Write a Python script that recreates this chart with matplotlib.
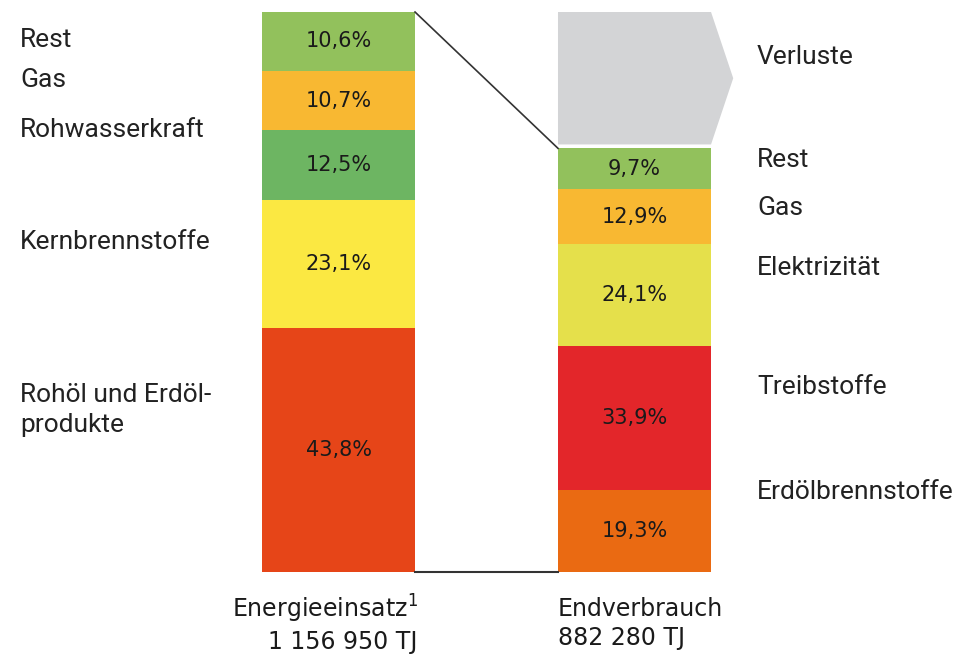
# Energiefluss: Energieeinsatz vs. Endverbrauch
import matplotlib.pyplot as plt
from matplotlib.patches import Polygon

# Daten
einsatz_total = 1156950  # TJ
verbrauch_total = 882280  # TJ
einsatz_cat = ["Rohöl und Erdöl-\nprodukte", "Kernbrennstoffe", "Rohwasserkraft", "Gas", "Rest"]
einsatz_pct = [43.8, 23.1, 12.5, 10.7, 10.6]
einsatz_col = ["#e64518", "#fbe842", "#6db562", "#f8b832", "#92c15c"]
verbrauch_cat = ["Erdölbrennstoffe", "Treibstoffe", "Elektrizität", "Gas", "Rest"]
verbrauch_pct = [19.3, 33.9, 24.1, 12.9, 9.7]
verbrauch_col = ["#ea6a12", "#e3262a", "#e5e04b", "#f8b832", "#92c15c"]
bar_titles = ["Energieeinsatz$^{1}$\n1 156 950 TJ", "Endverbrauch\n882 280 TJ"]

# Layout (y-Positionen der Beschriftungen in Prozent des Energieeinsatzes)
einsatz_label_y = [29.1, 59.3, 79.5, 88.5, 95.7]
verbrauch_label_y = [14.4, 33.3, 54.7, 65.5, 74.1]
verluste_label_y = 92.6

w = 0.517
label_font = ["Roboto", "DejaVu Sans"]
num_font = ["DejaVu Sans"]

fig = plt.figure(figsize=(9.69, 6.55), dpi=100)
ax = fig.add_axes([0, 0, 1, 1])
ax.set_xlim(-1.1436, 2.130)
ax.set_ylim(-14.93, 102.86)
ax.axis("off")

# linker Balken
scale = verbrauch_total / einsatz_total
bottom = 0
for p, c in zip(einsatz_pct, einsatz_col):
    ax.bar(0, p, width=w, bottom=bottom, color=c, edgecolor="none")
    ax.text(0, bottom + p / 2, "{:.1f}%".format(p).replace(".", ","),
            ha="center", va="center", fontsize=15, color="#1a1a1a", family=num_font)
    bottom += p
left_top = bottom

# rechter Balken
bottom = 0
for p, c in zip(verbrauch_pct, verbrauch_col):
    h = p * scale
    ax.bar(1, h, width=w, bottom=bottom, color=c, edgecolor="none")
    ax.text(1, bottom + h / 2, "{:.1f}%".format(p).replace(".", ","),
            ha="center", va="center", fontsize=15, color="#1a1a1a", family=num_font)
    bottom += h
right_top = bottom

# Verluste-Pfeil
gap = 0.7
x0, x1 = 1 - w / 2, 1 + w / 2
tip = x1 + 0.075
ymid = (right_top + gap + left_top) / 2
ax.add_patch(Polygon([(x0, right_top + gap), (x1, right_top + gap), (tip, ymid),
                      (x1, left_top), (x0, left_top)], closed=True,
                     facecolor="#d3d4d6", edgecolor="none"))

# Verbindungslinien
ax.plot([w / 2, 1 - w / 2], [left_top, right_top], color="#333333", lw=1.2)
ax.plot([w / 2, 1 - w / 2], [0, 0], color="#333333", lw=1.5)

# Beschriftungen
for name, y in zip(einsatz_cat, einsatz_label_y):
    ax.text(-1.076, y, name, ha="left", va="center", fontsize=19,
            color="#222222", family=label_font, linespacing=1.35)
for name, y in zip(verbrauch_cat, verbrauch_label_y):
    ax.text(1.414, y, name, ha="left", va="center", fontsize=19,
            color="#222222", family=label_font)
ax.text(1.414, verluste_label_y, "Verluste", ha="left", va="center", fontsize=19,
        color="#222222", family=label_font)

ax.text(w / 2 + 0.01, -9.2, bar_titles[0], ha="right", va="center", fontsize=17,
        color="#1a1a1a", family=num_font, multialignment="right", linespacing=1.25)
ax.text(1 - w / 2, -9.2, bar_titles[1], ha="left", va="center", fontsize=17,
        color="#1a1a1a", family=num_font, linespacing=1.25)

fig.savefig("out.png", dpi=100)
